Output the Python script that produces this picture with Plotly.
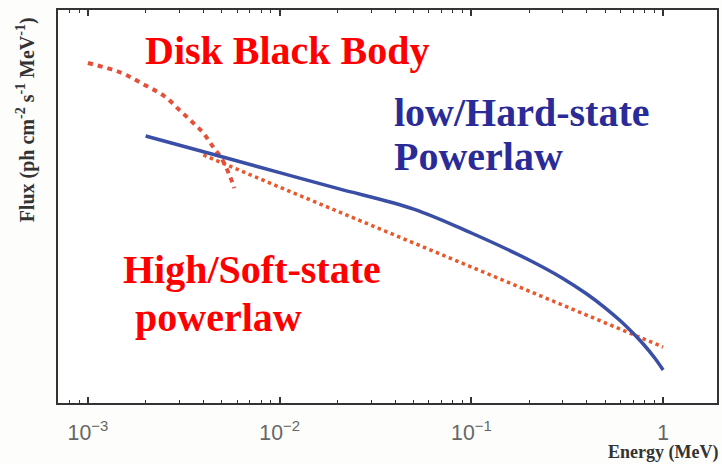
import plotly.graph_objects as go

# Hard-state powerlaw with high-energy cutoff (MeV, ph cm^-2 s^-1 MeV^-1, arbitrary units)
hard_energy = [0.002, 0.005, 0.01, 0.02, 0.05, 0.1, 0.2, 0.3, 0.4, 0.5, 0.6, 0.7, 0.8, 0.9, 1.0]
hard_flux = [468, 290, 201, 140, 87, 50.1, 26.9, 17.6, 12.3, 8.9, 6.6, 4.95, 3.76, 2.85, 2.14]

# Soft-state powerlaw (no cutoff)
soft_energy = [0.004, 0.01, 0.1, 1.0]
soft_flux = [302, 144, 22.9, 3.63]

# Disk black body component
disk_energy = [0.001, 0.0015, 0.002, 0.0025, 0.003, 0.0035, 0.004, 0.0045, 0.005, 0.0055, 0.0058]
disk_flux = [2512, 1995, 1496, 1175, 851, 646, 501, 363, 275, 186, 141]

SERIF = "Liberation Serif"
RED = "#ff0000"
NAVY = "#2b2b98"

fig = go.Figure()

fig.add_trace(go.Scatter(
    x=soft_energy, y=soft_flux, mode="lines",
    line=dict(color="#e8582c", width=3.5, dash="dot"),
    hoverinfo="skip", showlegend=False))

fig.add_trace(go.Scatter(
    x=disk_energy, y=disk_flux, mode="lines",
    line=dict(color="#e5503a", width=4, dash="5px,5px", shape="spline"),
    hoverinfo="skip", showlegend=False))

fig.add_trace(go.Scatter(
    x=hard_energy, y=hard_flux, mode="lines",
    line=dict(color="#3b4ea6", width=3.5, shape="spline"),
    hoverinfo="skip", showlegend=False))

labels = [
    ("Disk Black Body", 143, 51, RED),
    ("low/Hard-state", 393, 112, NAVY),
    ("Powerlaw", 393, 156, NAVY),
    ("High/Soft-state", 121, 269, RED),
    ("powerlaw", 133, 317, RED),
]
for text, px, py, col in labels:
    fig.add_annotation(
        text=text, xref="paper", yref="paper",
        x=(px - 58) / 661, y=(403 - py) / 393,
        xanchor="left", yanchor="middle", showarrow=False,
        font=dict(family=SERIF, size=40, color=col, weight="bold"))

fig.add_annotation(
    text="Flux (ph cm<sup>-2</sup> s<sup>-1</sup> MeV<sup>-1</sup>)",
    xref="paper", yref="paper", x=-0.048, y=(403 - 120) / 393,
    xanchor="center", yanchor="middle", textangle=-90, showarrow=False,
    font=dict(family=SERIF, size=20, color="#333333", weight="bold"))

fig.add_annotation(
    text="Energy (MeV)", xref="paper", yref="paper",
    x=1.004, y=-0.127, xanchor="right", yanchor="middle", showarrow=False,
    font=dict(family=SERIF, size=18, color="#333333", weight="bold"))

fig.update_xaxes(
    type="log", range=[-3.156, 0.281], dtick=1, exponentformat="power",
    showgrid=False, zeroline=False,
    showline=True, linecolor="#333333", linewidth=2, mirror="ticks",
    ticks="inside", ticklen=6, tickwidth=1.5, tickcolor="#333333",
    minor=dict(ticks="inside", ticklen=3, tickwidth=1, tickcolor="#333333", dtick="D1"),
    tickfont=dict(family="Liberation Sans", size=17, color="#666666"),
    ticklabelstandoff=10)

fig.update_yaxes(
    type="log", range=[0, 3.93], showticklabels=False, ticks="",
    showgrid=False, zeroline=False,
    showline=True, linecolor="#333333", linewidth=2, mirror=True)

fig.update_layout(
    width=722, height=464,
    margin=dict(l=58, r=3, t=10, b=61),
    paper_bgcolor="#fdfdfb", plot_bgcolor="#ffffff",
    showlegend=False)

fig.write_html("out.html")
